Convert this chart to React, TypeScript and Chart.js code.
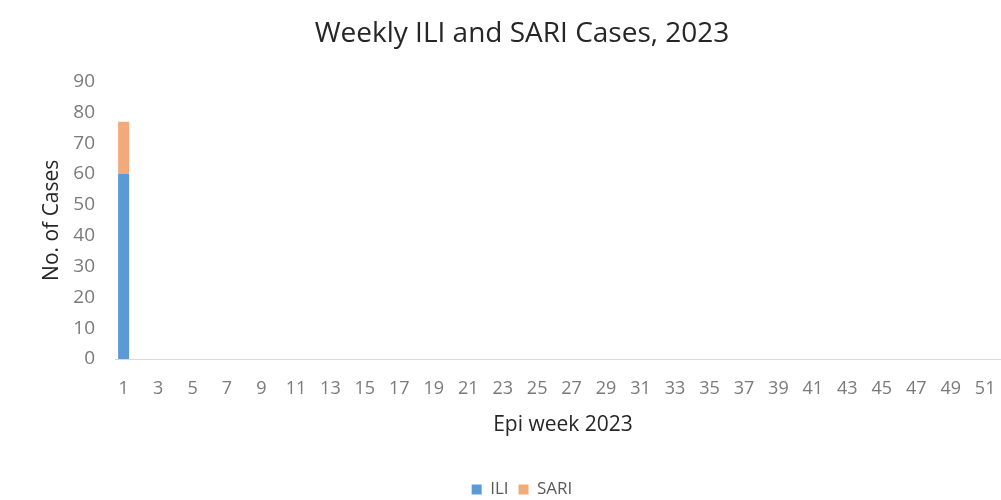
import React, { useEffect, useRef } from "react";
import { Chart, registerables } from "chart.js";

Chart.register(...registerables);

const weeks: string[] = [
  "1","2","3","4","5","6","7","8","9","10","11","12","13","14","15","16","17","18","19","20",
  "21","22","23","24","25","26","27","28","29","30","31","32","33","34","35","36","37","38","39","40",
  "41","42","43","44","45","46","47","48","49","50","51","52",
];

const iliCases: number[] = [
  60, 0, 0, 0, 0, 0, 0, 0, 0, 0, 0, 0, 0, 0, 0, 0, 0, 0, 0, 0,
  0, 0, 0, 0, 0, 0, 0, 0, 0, 0, 0, 0, 0, 0, 0, 0, 0, 0, 0, 0,
  0, 0, 0, 0, 0, 0, 0, 0, 0, 0, 0, 0,
];

const sariCases: number[] = [
  17, 0, 0, 0, 0, 0, 0, 0, 0, 0, 0, 0, 0, 0, 0, 0, 0, 0, 0, 0,
  0, 0, 0, 0, 0, 0, 0, 0, 0, 0, 0, 0, 0, 0, 0, 0, 0, 0, 0, 0,
  0, 0, 0, 0, 0, 0, 0, 0, 0, 0, 0, 0,
];

const W = 1040;
const H = 508;
const FONT = "'Open Sans', 'DejaVu Sans', sans-serif";

export default function App() {
  const ref = useRef<HTMLCanvasElement | null>(null);

  useEffect(() => {
    if (!ref.current) return;
    const chart = new Chart(ref.current, {
      type: "bar",
      data: {
        labels: weeks,
        datasets: [
          {
            label: "ILI",
            data: iliCases,
            backgroundColor: "#5b9bd5",
            categoryPercentage: 0.64,
            barPercentage: 1,
          },
          {
            label: "SARI",
            data: sariCases,
            backgroundColor: "#f2aa7a",
            categoryPercentage: 0.64,
            barPercentage: 1,
          },
        ],
      },
      options: {
        responsive: false,
        animation: false,
        layout: { padding: { left: 33, right: 29, top: 0, bottom: 0 } },
        plugins: {
          title: {
            display: true,
            text: "Weekly ILI and SARI Cases, 2023",
            color: "#262626",
            font: { family: FONT, size: 28, weight: "normal" },
            padding: { top: 17, bottom: 31 },
          },
          legend: {
            position: "bottom",
            labels: {
              color: "#595959",
              font: { family: FONT, size: 17 },
              boxWidth: 10,
              boxHeight: 10,
              padding: 10,
            },
          },
          tooltip: { enabled: false },
        },
        scales: {
          x: {
            stacked: true,
            grid: { display: false, drawTicks: false },
            border: { display: true, color: "#d9d9d9", width: 1 },
            ticks: {
              autoSkip: false,
              maxRotation: 0,
              minRotation: 0,
              color: "#7a7a7a",
              font: { family: FONT, size: 18 },
              padding: 19,
              callback: (_v: any, i: number) => (i % 2 === 0 ? weeks[i] : ""),
            },
            title: {
              display: true,
              text: "Epi week 2023",
              color: "#262626",
              font: { family: FONT, size: 21 },
              padding: { top: 12, bottom: 33 },
            },
            afterFit: (scale: any) => {
              scale.height = 112;
            },
          },
          y: {
            stacked: true,
            min: 0,
            max: 90,
            grid: { display: false, drawTicks: false },
            border: { display: false },
            ticks: {
              stepSize: 10,
              color: "#7a7a7a",
              font: { family: FONT, size: 19 },
              padding: 20,
            },
            title: {
              display: true,
              text: "No. of Cases",
              color: "#262626",
              font: { family: FONT, size: 21 },
              padding: { top: 6, bottom: 0 },
            },
            afterFit: (scale: any) => {
              scale.width = 82;
            },
          },
        },
      },
    });
    return () => chart.destroy();
  }, []);

  return (
    <div
      style={{
        position: "fixed",
        left: 0,
        top: 0,
        width: 1001,
        height: 500,
        overflow: "hidden",
        background: "#ffffff",
      }}
    >
      <canvas ref={ref} width={W} height={H} style={{ width: W, height: H, display: "block" }} />
    </div>
  );
}
